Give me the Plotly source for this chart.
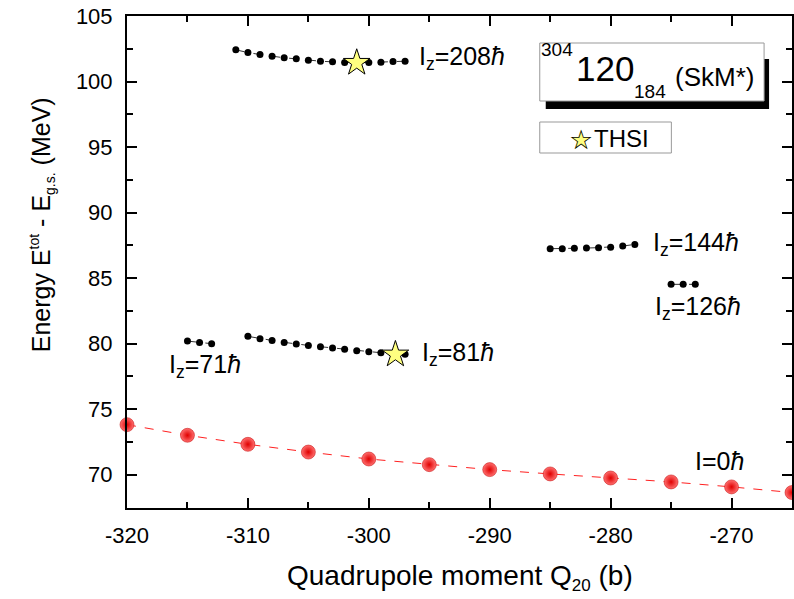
import plotly.graph_objects as go

# ---------------- data ----------------
q_i0 = [-320, -315, -310, -305, -300, -295, -290, -285, -280, -275, -270, -265]
e_i0 = [73.81, 73.00, 72.31, 71.72, 71.19, 70.76, 70.38, 70.05, 69.74, 69.44, 69.06, 68.63]

q_208 = [-311, -310, -309, -308, -307, -306, -305, -304, -303, -302, -301, -300, -299, -298, -297]
e_208 = [102.42, 102.21, 102.06, 101.93, 101.81, 101.73, 101.62, 101.55, 101.50, 101.45,
         101.43, 101.45, 101.47, 101.53, 101.55]

q_81 = [-310, -309, -308, -307, -306, -305, -304, -303, -302, -301, -300, -299, -298, -297]
e_81 = [80.55, 80.37, 80.24, 80.09, 79.96, 79.86, 79.76, 79.66, 79.56, 79.45, 79.38, 79.30,
        79.24, 79.18]

q_71 = [-315, -314, -313]
e_71 = [80.19, 80.09, 79.99]

q_144 = [-285, -284, -283, -282, -281, -280, -279, -278]
e_144 = [87.24, 87.24, 87.27, 87.29, 87.32, 87.36, 87.44, 87.57]

q_126 = [-275, -274, -273]
e_126 = [84.52, 84.52, 84.52]

q_thsi = [-301.0, -297.8]
e_thsi = [101.43, 79.17]

x_tick_vals = [-320, -310, -300, -290, -280, -270]
x_tick_text = ["-320", "-310", "-300", "-290", "-280", "-270"]
y_tick_vals = [70, 75, 80, 85, 90, 95, 100, 105]
y_tick_text = ["70", "75", "80", "85", "90", "95", "100", "105"]

labels = [
    ("I<sub>z</sub>=208<i>ħ</i>", -296.0, 101.80),
    ("I<sub>z</sub>=144<i>ħ</i>", -276.7, 87.60),
    ("I<sub>z</sub>=126<i>ħ</i>", -276.5, 82.70),
    ("I<sub>z</sub>=71<i>ħ</i>", -316.7, 78.30),
    ("I<sub>z</sub>=81<i>ħ</i>", -295.8, 79.20),
    ("I=0<i>ħ</i>", -273.2, 71.00),
]

# ---------------- layout geometry ----------------
W, H = 794, 599
ML, MR, MT, MB = 127, 0, 16, 91
PW, PH = W - ML - MR, H - MT - MB


def px(xp):
    return (xp - ML) / PW


def py(yp):
    return (H - MB - yp) / PH


FONT = "Arial, Liberation Sans, Helvetica, sans-serif"
SMALL = "<span style='font-size:14px'>{}</span>"

fig = go.Figure()

# I=0 red curve
fig.add_trace(go.Scatter(
    x=q_i0, y=e_i0, mode="lines+markers",
    line=dict(color="#ff2020", width=1, dash="dash"),
    marker=dict(size=14, color="#ff7070", gradient=dict(type="radial", color="#e00000"),
                line=dict(width=0.5, color="#c00000")),
    showlegend=False, cliponaxis=False,
))

for qq, ee in [(q_208, e_208), (q_81, e_81), (q_71, e_71), (q_144, e_144), (q_126, e_126)]:
    fig.add_trace(go.Scatter(
        x=qq, y=ee, mode="lines+markers",
        line=dict(color="#333333", width=1, dash="dash"),
        marker=dict(size=7, color="black"),
        showlegend=False,
    ))

fig.add_trace(go.Scatter(
    x=q_thsi, y=e_thsi, mode="markers", name="THSI",
    marker=dict(symbol="star", size=20, color="#ffff80", line=dict(color="black", width=1)),
    showlegend=False,
))

annotations = []
for txt, xx, yy in labels:
    annotations.append(dict(x=xx, y=yy, xref="x", yref="y", text=txt, showarrow=False,
                            xanchor="left", yanchor="middle",
                            font=dict(family=FONT, size=25, color="black")))

# Title box text pieces
annotations += [
    dict(x=px(540), y=py(50), xref="paper", yref="paper", text="304", showarrow=False,
         xanchor="left", yanchor="middle", font=dict(family=FONT, size=19, color="black")),
    dict(x=px(575), y=py(68), xref="paper", yref="paper", text="120", showarrow=False,
         xanchor="left", yanchor="middle", font=dict(family=FONT, size=35, color="black")),
    dict(x=px(634), y=py(91), xref="paper", yref="paper", text="184", showarrow=False,
         xanchor="left", yanchor="middle", font=dict(family=FONT, size=19, color="black")),
    dict(x=px(675), y=py(77), xref="paper", yref="paper", text="(SkM*)", showarrow=False,
         xanchor="left", yanchor="middle", font=dict(family=FONT, size=26, color="black")),
]

# Legend pieces
annotations += [
    dict(x=px(582), y=py(139), xref="paper", yref="paper", text="★", showarrow=False,
         xanchor="center", yanchor="middle", font=dict(family="DejaVu Sans", size=27, color="#ffff80")),
    dict(x=px(582), y=py(139), xref="paper", yref="paper", text="☆", showarrow=False,
         xanchor="center", yanchor="middle", font=dict(family="DejaVu Sans", size=27, color="black")),
    dict(x=px(593), y=py(138), xref="paper", yref="paper", text="THSI", showarrow=False,
         xanchor="left", yanchor="middle", font=dict(family=FONT, size=24, color="black")),
]

# Axis titles
annotations += [
    dict(x=px(42), y=py(225), xref="paper", yref="paper",
         text="Energy E<sup>" + SMALL.format("tot") + "</sup> - E<sub>" + SMALL.format("g.s.")
              + "</sub> (MeV)",
         textangle=-90, showarrow=False,
         xanchor="center", yanchor="middle", font=dict(family=FONT, size=25, color="black")),
    dict(x=px(461), y=py(577), xref="paper", yref="paper",
         text="Quadrupole moment Q<sub><span style='font-size:17px'>20</span></sub> (b)",
         showarrow=False,
         xanchor="center", yanchor="middle", font=dict(family=FONT, size=28, color="black")),
]

shapes = [
    dict(type="rect", xref="paper", yref="paper", x0=px(547), x1=px(771), y0=py(59), y1=py(109),
         fillcolor="black", line=dict(width=0)),
    dict(type="rect", xref="paper", yref="paper", x0=px(541), x1=px(766), y0=py(43), y1=py(101),
         fillcolor="white", line=dict(color="#999999", width=1)),
    dict(type="rect", xref="paper", yref="paper", x0=px(541), x1=px(673), y0=py(122), y1=py(153),
         fillcolor="white", line=dict(color="#999999", width=1), layer="below"),
]

fig.update_layout(
    width=W, height=H,
    margin=dict(l=ML, r=MR, t=MT, b=MB),
    paper_bgcolor="white", plot_bgcolor="white",
    font=dict(family=FONT, color="black"),
    annotations=annotations, shapes=shapes,
    xaxis=dict(range=[-320, -265], tickmode="array", tickvals=x_tick_vals, ticktext=x_tick_text,
               ticks="inside", ticklen=10, tickwidth=1.5, tickcolor="black",
               minor=dict(dtick=5, tick0=-320, ticks="inside", ticklen=6, tickwidth=1.5, tickcolor="black"),
               showline=True, linecolor="black", linewidth=2, mirror="ticks",
               showgrid=False, zeroline=False, tickfont=dict(size=22, family=FONT),
               ticklabelstandoff=7),
    yaxis=dict(range=[67.45, 105], tickmode="array", tickvals=y_tick_vals, ticktext=y_tick_text,
               ticks="inside", ticklen=10, tickwidth=1.5, tickcolor="black",
               minor=dict(dtick=2.5, tick0=70, ticks="inside", ticklen=6, tickwidth=1.5, tickcolor="black"),
               showline=True, linecolor="black", linewidth=2, mirror="ticks",
               showgrid=False, zeroline=False, tickfont=dict(size=22, family=FONT),
               ticklabelstandoff=8),
)

fig.write_html("out.html")
